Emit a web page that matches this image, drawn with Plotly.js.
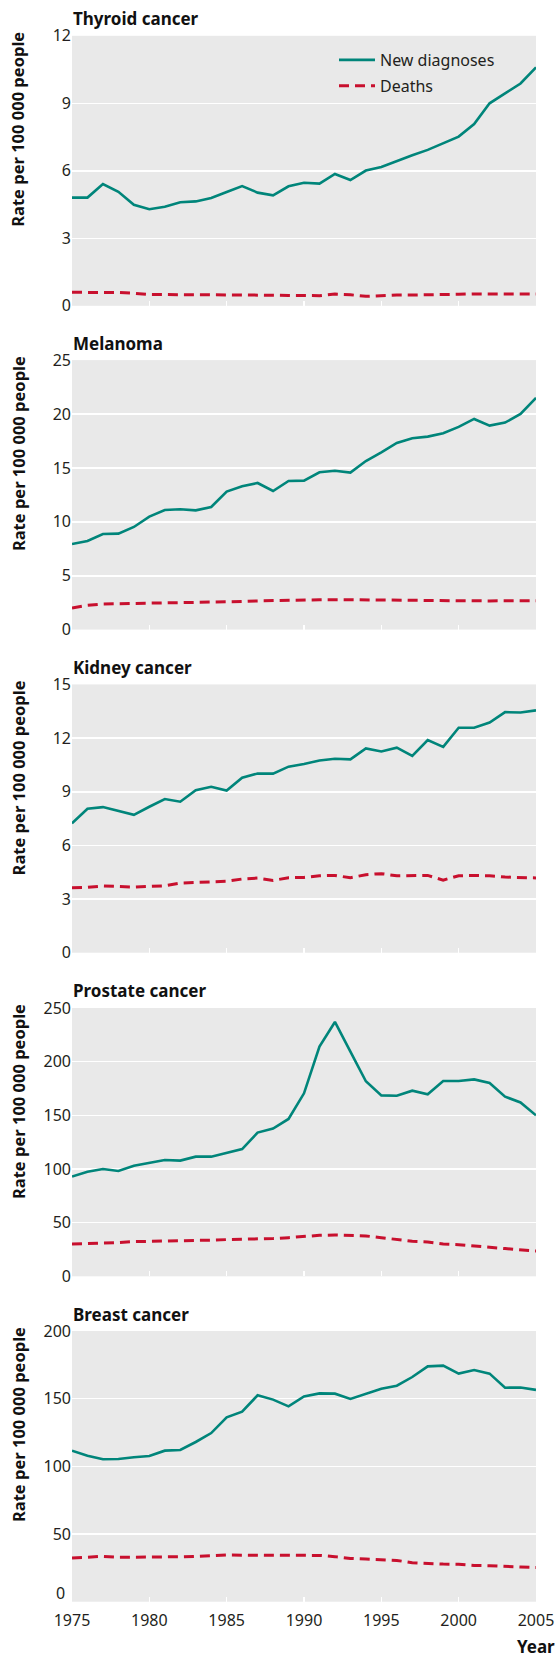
<!DOCTYPE html>
<html>
<head>
<meta charset="utf-8">
<script src="https://cdn.plot.ly/plotly-3.0.1.min.js"></script>
<style>html,body{margin:0;padding:0;background:#fff;}#chart{width:558px;height:1657px;}</style>
</head>
<body>
<div id="chart"></div>
<script>
const years = [1975,1976,1977,1978,1979,1980,1981,1982,1983,1984,1985,1986,1987,1988,1989,1990,1991,1992,1993,1994,1995,1996,1997,1998,1999,2000,2001,2002,2003,2004,2005];
const xTicks = [1975,1980,1985,1990,1995,2000,2005];

const panelTitles = ['Thyroid cancer','Melanoma','Kidney cancer','Prostate cancer','Breast cancer'];
const seriesNames = ['New diagnoses','Deaths'];

const thyroidNew = [4.81,4.81,5.41,5.07,4.49,4.29,4.40,4.60,4.64,4.79,5.06,5.32,5.03,4.91,5.31,5.47,5.43,5.86,5.59,6.01,6.17,6.44,6.69,6.93,7.22,7.52,8.08,9.00,9.44,9.88,10.6];
const thyroidDeaths = [0.6,0.6,0.6,0.59,0.56,0.5,0.5,0.5,0.49,0.5,0.5,0.5,0.48,0.47,0.46,0.44,0.45,0.52,0.49,0.42,0.46,0.48,0.48,0.48,0.49,0.51,0.53,0.53,0.52,0.52,0.52];
const melanomaNew = [7.94,8.22,8.87,8.90,9.52,10.48,11.09,11.16,11.06,11.37,12.80,13.29,13.60,12.86,13.79,13.82,14.59,14.74,14.56,15.64,16.45,17.31,17.75,17.90,18.21,18.80,19.54,18.92,19.20,20.0,21.5];
const melanomaDeaths = [2.0,2.25,2.38,2.4,2.42,2.44,2.46,2.48,2.52,2.54,2.56,2.6,2.66,2.7,2.73,2.76,2.77,2.78,2.78,2.77,2.76,2.74,2.72,2.7,2.68,2.67,2.65,2.66,2.67,2.68,2.68];
const kidneyNew = [7.23,8.05,8.14,7.92,7.71,8.16,8.59,8.44,9.09,9.28,9.07,9.78,10.02,10.01,10.40,10.55,10.75,10.84,10.81,11.42,11.25,11.46,11.0,11.89,11.51,12.58,12.58,12.87,13.45,13.43,13.55];
const kidneyDeaths = [3.63,3.65,3.73,3.71,3.67,3.71,3.74,3.89,3.93,3.95,3.99,4.12,4.17,4.04,4.19,4.21,4.30,4.32,4.19,4.36,4.42,4.30,4.32,4.32,4.06,4.30,4.32,4.30,4.23,4.20,4.18];
const prostateNew = [92.9,97.5,100,98.1,103.1,105.6,108.4,107.8,111.5,111.5,115.2,118.6,133.9,137.6,146.6,170.5,214,237,209.3,181.7,168.6,168.3,173,169.6,182,182,183.5,180.1,167.4,162,150];
const prostateDeaths = [30.1,30.4,30.7,31.5,32.3,32.5,32.6,32.9,33.2,33.7,34.2,34.4,34.5,35.2,36,37.3,38.2,38.5,38.2,37.6,36,34.5,32.6,32,30.1,29.5,28.6,27,25.8,25,23.5];
const breastNew = [111.6,107.9,105.2,105.4,106.7,107.6,111.6,112.1,118,124.6,136.2,140.4,152.5,149.3,144.3,151.7,153.9,153.7,149.8,153.4,157.4,159.6,166,173.9,174.4,168.5,171.2,168.5,158.1,158.3,156.5];
const breastDeaths = [32.3,32.8,33.5,32.8,32.8,32.8,32.8,33.2,33.5,34,34.5,34.4,34.3,34.3,34.3,34.3,34.2,33.3,32,31.5,31,30.5,28.8,28.1,27.8,27.6,26.8,26.6,25.9,25.6,25.3];

const yTickSets = [
  [0,3,6,9,12],
  [0,5,10,15,20,25],
  [0,3,6,9,12,15],
  [0,50,100,150,200,250],
  [0,50,100,150,200]
];
const yTitle = 'Rate per 100 000 people';
const xTitle = 'Year';

const newSeries = [thyroidNew, melanomaNew, kidneyNew, prostateNew, breastNew];
const deathSeries = [thyroidDeaths, melanomaDeaths, kidneyDeaths, prostateDeaths, breastDeaths];

// ---- layout geometry (pixels) ----
const W = 558, H = 1657, ML = 72, MR = 22;
const PW = W - ML - MR;
const panelTop = [35.8, 360.1, 684.4, 1008, 1331];
const panelBot = [305.8, 629.6, 952.7, 1276.3, 1601.7];
const py = p => 1 - p / H;
const px = p => (p - ML) / PW;

const FONT = '"Noto Sans", "Open Sans", sans-serif';
const TXT = '#231f20';
const TEAL = '#00857a';
const RED = '#c8102e';

const data = [];
const layout = {
  width: W, height: H,
  margin: {l: ML, r: MR, t: 0, b: 0, pad: 0},
  paper_bgcolor: '#ffffff',
  plot_bgcolor: '#e9e9e9',
  font: {family: FONT, color: TXT, size: 16},
  showlegend: true,
  legend: {
    x: px(334), y: py(43), xanchor: 'left', yanchor: 'top',
    bgcolor: 'rgba(0,0,0,0)', borderwidth: 0,
    font: {family: FONT, size: 16, color: TXT},
    traceorder: 'grouped', tracegroupgap: 2, itemwidth: 36
  },
  annotations: [],
  hovermode: false
};

for (let k = 0; k < 5; k++) {
  const sfx = k === 0 ? '' : String(k + 1);
  data.push({
    x: years, y: newSeries[k], type: 'scatter', mode: 'lines',
    name: seriesNames[0], legendgroup: 'a', showlegend: k === 0,
    xaxis: 'x' + sfx, yaxis: 'y' + sfx,
    line: {color: TEAL, width: 2.6}
  });
  data.push({
    x: years, y: deathSeries[k], type: 'scatter', mode: 'lines',
    name: seriesNames[1], legendgroup: 'b', showlegend: k === 0,
    xaxis: 'x' + sfx, yaxis: 'y' + sfx,
    line: {color: RED, width: 3, dash: '10px,6px'}
  });
  const ticks = yTickSets[k];
  const isLast = k === 4;
  // in the bottom panel the "0" label sits slightly raised (drawn below as an annotation)
  const tickText = ticks.map((v, i) => (isLast && i === 0) ? '' : String(v));
  layout['xaxis' + sfx] = {
    domain: [0, 1], anchor: 'y' + sfx,
    range: [years[0], years[years.length - 1]],
    tickvals: xTicks, ticktext: xTicks.map(String),
    ticks: 'inside', ticklen: 5, tickwidth: 1.5, tickcolor: '#ffffff',
    showticklabels: isLast, ticklabelstandoff: 7,
    tickfont: {family: FONT, size: 16, color: TXT},
    showgrid: false, zeroline: false, showline: false, fixedrange: true
  };
  layout['yaxis' + sfx] = {
    domain: [py(panelBot[k]), py(panelTop[k])], anchor: 'x' + sfx,
    range: [ticks[0], ticks[ticks.length - 1]],
    tickvals: ticks, ticktext: tickText,
    ticks: '', showgrid: true, gridcolor: '#ffffff', gridwidth: 1.6,
    zeroline: false, showline: false, fixedrange: true,
    tickfont: {family: FONT, size: 16, color: TXT}
  };
  if (isLast) {
    layout.annotations.push({
      xref: 'paper', yref: 'paper', x: px(67), y: py(1593),
      xanchor: 'right', yanchor: 'middle', showarrow: false,
      text: String(ticks[0]),
      font: {family: FONT, size: 16, color: TXT}
    });
  }
  layout.annotations.push({
    xref: 'paper', yref: 'paper', x: px(71), y: py(panelTop[k] - 17),
    xanchor: 'left', yanchor: 'middle', showarrow: false,
    text: '<b>' + panelTitles[k] + '</b>',
    font: {family: FONT, size: 17, color: '#111'}
  });
  layout.annotations.push({
    xref: 'paper', yref: 'paper', x: px(18), y: py(panelTop[k] + 94),
    xanchor: 'center', yanchor: 'middle', showarrow: false, textangle: -90,
    text: '<b>' + yTitle + '</b>',
    font: {family: FONT, size: 16.5, color: '#111'}
  });
}
layout.annotations.push({
  xref: 'paper', yref: 'paper', x: px(557), y: py(1646),
  xanchor: 'right', yanchor: 'middle', showarrow: false,
  text: '<b>' + xTitle + '</b>',
  font: {family: FONT, size: 17, color: '#111'}
});

Plotly.newPlot('chart', data, layout, {displayModeBar: false, staticPlot: true});
</script>
</body>
</html>
